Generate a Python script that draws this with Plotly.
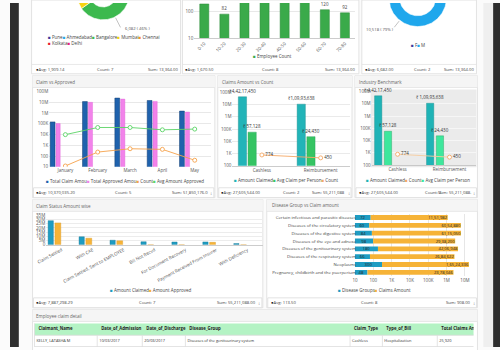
import math
import plotly.graph_objects as go

W, H = 500, 350
FONT = "Open Sans"
FS = 4.5

# ---------------- data ----------------
cities = ["Pune", "Ahmedabad", "Bangalore", "Mumbai", "Chennai", "Kolkata", "Delhi"]
city_counts = [1400, 1236, 6082, 1800, 1200, 900, 746]
city_colors = ["#3c3c9c", "#27a6e3", "#3cb94e", "#f6d311", "#f7941e", "#e8192c", "#e91e7a"]

age_groups = ["0-10", "10-20", "20-30", "30-40", "40-50", "50-60", "60-70", "70-80"]
age_counts = [198, 82, 2650, 4820, 3760, 1642, 120, 92]

genders = ["F", "M"]
gender_counts = [2846, 10518]
gender_colors = ["#3c3c9c", "#1fa7ec"]

months = ["January", "February", "March", "April", "May"]
total_claim = [148500, 11420000, 24300000, 14480000, 1501676]
total_approved = [105000, 9800000, 19500000, 11900000, 1210000]
claim_count = [12, 235, 480, 420, 41]
avg_approved = [9800, 45000, 45000, 27500, 32000]

claim_types = ["Cashless", "Reimbursement"]
amount_claimed = [44217450, 10993638]
avg_claim_person = [57128, 24430]
type_count = [774, 450]

statuses = ["Claim Settled", "With CAE", "Claim Settled, Sent to EMPLOYEE", "Bill Not Recvd",
            "For Document Recovery", "Payment Received From Insurer", "With Deficiency"]
status_claimed = [28600000, 9500000, 5400000, 3600000, 3300000, 3400000, 1411088]
status_approved = [26000000, 7800000, 4700000, 0, 0, 2900000, 0]

diseases = ["Certain infectious and parasitic diseases", "Diseases of the circulatory system",
            "Diseases of the digestive system", "Diseases of the eye and adnexa",
            "Diseases of the genitourinary system", "Diseases of the respiratory system",
            "Neoplasms", "Pregnancy, childbirth and the puerperium"]
disease_counts = [72, 60, 84, 98, 180, 66, 300, 48]
disease_amounts = [1151982, 6054880, 6115050, 2938200, 4206948, 2684622, 16524336, 2378046]

table_cols = ["Claimant_Name", "Date_of_Admission", "Date_of_Discharge", "Disease_Group",
              "Claim_Type", "Type_of_Bill", "Total Claims Amount"]
table_row = ["KELLY, LATASHA M", "10/03/2017", "20/03/2017", "Diseases of the genitourinary system",
             "Cashless", "Hospitalization", "25,920"]

log_vals = [10, 100, 1e3, 1e4, 1e5, 1e6, 1e7, 1e8]
log_text = ["10", "100", "1K", "10K", "100K", "1M", "10M", "100M"]
lin_vals = [0, 5e6, 10e6, 15e6, 20e6, 25e6, 30e6, 35e6]
lin_text = ["0", "5M", "10M", "15M", "20M", "25M", "30M", "35M"]

# table column borders (layout, px)
col_edges = [25, 89, 135, 179, 347, 380, 436, 473]


def inr(n):
    s = str(int(n))
    last3, rest = s[-3:], s[:-3]
    groups = []
    while len(rest) > 2:
        groups.insert(0, rest[-2:])
        rest = rest[:-2]
    if rest:
        groups.insert(0, rest)
    return ",".join(groups + [last3])


def X(px):
    return px / W


def Y(py):
    return 1 - py / H


shapes, annots = [], []


def rect(x0, y0, x1, y1, fill, line=None, lw=0.8):
    shapes.append(dict(type="rect", xref="paper", yref="paper", x0=X(x0), x1=X(x1), y0=Y(y1), y1=Y(y0),
                       fillcolor=fill, line=dict(color=line or "rgba(0,0,0,0)", width=lw if line else 0),
                       layer="below"))


def hline(x0, x1, y, color="#e2e2e2", lw=0.8):
    shapes.append(dict(type="line", xref="paper", yref="paper", x0=X(x0), x1=X(x1), y0=Y(y), y1=Y(y),
                       line=dict(color=color, width=lw), layer="below"))


def vline(x, y0, y1, color="#dddddd", lw=0.8):
    shapes.append(dict(type="line", xref="paper", yref="paper", x0=X(x), x1=X(x), y0=Y(y0), y1=Y(y1),
                       line=dict(color=color, width=lw), layer="below"))


def text(x, y, s, size=FS, color="#555", anchor="left"):
    annots.append(dict(xref="paper", yref="paper", x=X(x), y=Y(y), text=s, showarrow=False,
                       xanchor=anchor, yanchor="middle", borderpad=0,
                       font=dict(family=FONT, size=size, color=color)))


def legend(x, y, items, anchor="left"):
    s = "".join(f'<span style="color:{c}">■</span> {n}' for n, c in items)
    text(x, y, s, color="#444", anchor=anchor)


def footer(x0, x1, y, avg, cnt, sm, cx, spinner=False):
    text(x0, y, '<span style="color:#111">●</span>Avg: ' + avg, size=4.2, color="#444")
    text(cx, y, "Count: " + cnt, size=4.2, color="#444", anchor="center")
    text(x1 - (4 if spinner else 0), y, "Sum: " + sm, size=4.2, color="#444", anchor="right")
    if spinner:
        text(x1 + 0.5, y, "↕", size=4.5, color="#777", anchor="right")


# ---------------- page chrome ----------------
rect(0, 0, 500, 350, "#fbfbfb")
rect(0, 0, 9, 350, "#2e2e2e")
rect(483, 0, 493, 350, "#efefef")
rect(493, 0, 500, 350, "#2e2e2e")

for (a, b) in [(22, 174), (176, 356), (359, 476)]:
    rect(a, -3, b, 72, "white", "#dcdcdc")
    hline(a, b, 62.5)
for (a, b) in [(23, 209), (212, 349), (352, 477)]:
    rect(a, 74, b, 198, "white", "#dcdcdc")
    rect(a, 74, b, 86, "#f5f5f5")
    hline(a, b, 86)
    rect(a + 1, 188, b - 1, 198, "white", "#dcdcdc")
rect(368, 88, 476, 167, "#ebebeb")
for (a, b) in [(23, 258), (262, 477)]:
    rect(a, 200, b, 310, "white", "#dcdcdc")
    rect(a, 200, b, 212, "#f5f5f5")
    hline(a, b, 212)
    rect(a + 1, 300, b - 1, 310, "white", "#dcdcdc")
rect(23, 312, 477, 356, "white", "#dcdcdc")
rect(23, 312, 477, 324, "#f5f5f5")
hline(23, 477, 324)

# table grid
rect(col_edges[0], 326, col_edges[-1], 338, "#b4f3c4")
hline(col_edges[0], col_edges[-1], 338, "#d8d8d8")
hline(col_edges[0], col_edges[-1], 349.5, "#dddddd")
for e in col_edges[1:-1]:
    vline(e, 338, 350, "#dddddd")
vline(col_edges[0], 326, 350, "#dddddd")

# titles
text(26, 80, "Claim vs Approved", color="#666")
text(215, 80.5, "Claims Amount vs Count", color="#666")
text(355, 80.5, "Industry Benchmark", color="#666")
text(26, 206.5, "Claim Status Amount wise", color="#666")
text(266, 206, "Disease Group vs Claim amount", color="#666")
text(26, 318.5, "Employee claim detail", color="#666")

# footers
footer(25, 172, 67.5, "1,909.14", "7", "13,364.00", 97)
footer(178, 353, 67.5, "1,670.50", "8", "13,364.00", 266)
footer(361, 474, 67.5, "6,682.00", "2", "13,364.00", 421)
footer(26, 207, 193, "10,370,035.20", "5", "51,850,176.0", 116, True)
footer(214, 347, 193, "27,605,544.00", "2", "55,211,088", 287, True)
footer(355, 475, 193, "27,605,544.00", "2", "55,211,088.", 432, True)
footer(26, 256, 305, "7,887,298.29", "7", "55,211,088.00", 140, True)
footer(265, 475, 305, "113.50", "8", "908.00", 367, True)

fig = go.Figure()


# ---------------- donuts ----------------
def ring(values, colors, cx, cy, R, r, xa, ya):
    total = sum(values)
    a = 0.0
    mids = []
    for v, c in zip(values, colors):
        a1 = a + v / total * 360
        k = max(4, int(300 * (a1 - a) / 360) + 2)
        angs = [math.radians(a + (a1 - a) * i / (k - 1)) for i in range(k)]
        xs = [cx + R * math.sin(t) for t in angs] + [cx + r * math.sin(t) for t in reversed(angs)]
        ys = [cy - R * math.cos(t) for t in angs] + [cy - r * math.cos(t) for t in reversed(angs)]
        fig.add_trace(go.Scatter(x=xs + [xs[0]], y=ys + [ys[0]], fill="toself", mode="lines",
                                 fillcolor=c, line=dict(color="white", width=0.6),
                                 xaxis=xa, yaxis=ya, hoverinfo="skip", showlegend=False))
        mids.append((a + a1) / 2)
        a = a1
    return mids


c1 = dict(cx=95, cy=-9.9, R=27, r=14)
mids1 = ring(city_counts, city_colors, c1["cx"], c1["cy"], c1["R"], c1["r"], "x", "y")
bi = cities.index("Bangalore")
t = math.radians(mids1[bi])
p0 = (c1["cx"] + (c1["R"] + 1) * math.sin(t), c1["cy"] - (c1["R"] + 1) * math.cos(t))
p1 = (c1["cx"] + (c1["R"] + 12) * math.sin(t), c1["cy"] - (c1["R"] + 12) * math.cos(t))
fig.add_trace(go.Scatter(x=[p0[0], p1[0]], y=[p0[1], p1[1]], mode="lines",
                         line=dict(color="#999", width=0.6), xaxis="x", yaxis="y",
                         hoverinfo="skip", showlegend=False))
pct = round(city_counts[bi] / sum(city_counts) * 100)
text(p1[0] + 4, p1[1] + 1, f"{city_counts[bi]:,} ( {pct}% )", size=4.2, color="#555")
legend(38, 35, list(zip(cities[:5], city_colors[:5])))
legend(38, 40.5, list(zip(cities[5:], city_colors[5:])))

c2 = dict(cx=416, cy=-5.5, R=29.5, r=18.5)
mids2 = ring(gender_counts, gender_colors, c2["cx"], c2["cy"], c2["R"], c2["r"], "x3", "y3")
mi = genders.index("M")
t = math.radians(mids2[mi])
q0 = (c2["cx"] + (c2["R"] + 1) * math.sin(t), c2["cy"] - (c2["R"] + 1) * math.cos(t))
q1 = (c2["cx"] + (c2["R"] + 9) * math.sin(t), c2["cy"] - (c2["R"] + 9) * math.cos(t))
fig.add_trace(go.Scatter(x=[q0[0], q1[0]], y=[q0[1], q1[1]], mode="lines",
                         line=dict(color="#999", width=0.6), xaxis="x3", yaxis="y3",
                         hoverinfo="skip", showlegend=False))
pct2 = round(gender_counts[mi] / sum(gender_counts) * 100)
text(q1[0] + 1, q1[1] + 2.5, f"{gender_counts[mi]:,} ( {pct2}% )", size=4.2, color="#555", anchor="right")
legend(416, 43, list(zip(genders, gender_colors)), anchor="center")

# ---------------- age bars ----------------
fig.add_trace(go.Bar(x=age_groups, y=age_counts, xaxis="x2", yaxis="y2", width=0.45,
                     marker=dict(color="#3aaa4a", line=dict(color="#2c8a3a", width=0.5)),
                     text=[str(v) for v in age_counts], textposition="outside", constraintext="none",
                     textfont=dict(size=FS, color="#444", family=FONT), cliponaxis=False,
                     showlegend=False))
legend(268, 54, [("Employee Count", "#3aaa4a")], anchor="center")

# ---------------- claim vs approved ----------------
fig.add_trace(go.Bar(x=months, y=total_claim, xaxis="x4", yaxis="y4", offset=-0.47, width=0.15,
                     marker=dict(color="#1f62ad", line=dict(color="#143f73", width=0.5)), showlegend=False))
fig.add_trace(go.Bar(x=months, y=total_approved, xaxis="x4", yaxis="y4", offset=-0.29, width=0.13,
                     marker=dict(color="#f282ea", line=dict(color="#e060d8", width=0.4)), showlegend=False))
fig.add_trace(go.Scatter(x=months, y=claim_count, xaxis="x4", yaxis="y4", mode="lines+markers",
                         line=dict(color="#f5a24b", width=0.9),
                         marker=dict(size=4, color="white", line=dict(color="#f5a24b", width=0.9)),
                         showlegend=False))
fig.add_trace(go.Scatter(x=months, y=avg_approved, xaxis="x4", yaxis="y4", mode="lines+markers",
                         line=dict(color="#5bd466", width=0.9),
                         marker=dict(size=4, color="white", line=dict(color="#5bd466", width=0.9)),
                         showlegend=False))
legend(36, 181, [("Total Claim Amou", "#1f62ad"), ("Total Approved Amou", "#f282ea"),
                 ("Count", "#f5a24b"), ("Avg Amount Approved", "#5bd466")])


def amount_panel(xa, ya, teal, green, line_c, marker_c, off_t, off_g):
    fig.add_trace(go.Bar(x=claim_types, y=amount_claimed, xaxis=xa, yaxis=ya, offset=off_t, width=0.14,
                         marker=dict(color=teal, line=dict(color="#168a8c", width=0.4)),
                         text=["₹" + inr(v) for v in amount_claimed], textposition="outside",
                         constraintext="none", cliponaxis=False,
                         textfont=dict(size=FS, color="#333", family=FONT), showlegend=False))
    fig.add_trace(go.Bar(x=claim_types, y=avg_claim_person, xaxis=xa, yaxis=ya, offset=off_g, width=0.14,
                         marker=dict(color=green, line=dict(color="#24a05a", width=0.4)),
                         text=["₹" + inr(v) for v in avg_claim_person], textposition="outside",
                         constraintext="none", cliponaxis=False,
                         textfont=dict(size=FS, color="#333", family=FONT), showlegend=False))
    fig.add_trace(go.Scatter(x=claim_types, y=type_count, xaxis=xa, yaxis=ya, mode="lines+markers+text",
                             line=dict(color=line_c, width=0.9),
                             marker=dict(size=4, color="white", line=dict(color=marker_c, width=0.9)),
                             text=[str(v) for v in type_count], textposition="middle right",
                             textfont=dict(size=FS, color="#333", family=FONT), cliponaxis=False,
                             showlegend=False))


amount_panel("x5", "y5", "#22b4b8", "#35c463", "#f5a865", "#f5a865", -0.40, -0.235)
amount_panel("x6", "y6", "#1fb3b6", "#3ee79d", "#f7cc9e", "#f5a865", -0.443, -0.255)
legend(228, 180.5, [("Amount Claimed", "#22b4b8"), ("Avg Claim per Person", "#35c463"), ("Count", "#f5a865")])
legend(362, 180.5, [("Amount Claimed", "#1fb3b6"), ("Count", "#f5a865"), ("Avg Claim per Person", "#3ee79d")])

# ---------------- claim status ----------------
fig.add_trace(go.Bar(x=statuses, y=status_claimed, xaxis="x7", yaxis="y7", offset=-0.44, width=0.17,
                     marker=dict(color="#1e9cc2", line=dict(color="#157391", width=0.4)), showlegend=False))
fig.add_trace(go.Bar(x=statuses, y=status_approved, xaxis="x7", yaxis="y7", offset=-0.22, width=0.19,
                     marker=dict(color="#f6b337", line=dict(color="#d99a25", width=0.4)), showlegend=False))
legend(144, 292, [("Amount Claimed", "#1e9cc2"), ("Amount Approved", "#f6b337")], anchor="center")

# ---------------- disease group ----------------
fig.add_trace(go.Bar(y=diseases, x=disease_counts, orientation="h", xaxis="x8", yaxis="y8", width=0.62,
                     marker=dict(color="#1e9cc2", line=dict(width=0)),
                     text=[str(v) for v in disease_counts], textposition="inside", insidetextanchor="middle",
                     insidetextfont=dict(size=4.2, color="#222", family=FONT), showlegend=False))
fig.add_trace(go.Bar(y=diseases, x=disease_amounts, base=disease_counts, orientation="h", xaxis="x8",
                     yaxis="y8", width=0.62, marker=dict(color="#f6b337", line=dict(width=0)),
                     text=[inr(v) for v in disease_amounts], textposition="inside", insidetextanchor="end",
                     insidetextfont=dict(size=4.2, color="#222", family=FONT), showlegend=False))
legend(372, 291.7, [("Disease Groups", "#1e9cc2"), ("Claims Amount", "#f6b337")], anchor="center")

# ---------------- table (text clipped by a hidden subplot) ----------------
fig.add_trace(go.Scatter(x=[e + 4 for e in col_edges[:-1]], y=[332] * len(table_cols), mode="text",
                         text=["<b>" + c + "</b>" for c in table_cols], textposition="middle right",
                         textfont=dict(size=4.3, color="#222", family=FONT), xaxis="x9", yaxis="y9",
                         hoverinfo="skip", showlegend=False))
fig.add_trace(go.Scatter(x=[e + 2 for e in col_edges[:-1]], y=[344] * len(table_row), mode="text",
                         text=table_row, textposition="middle right",
                         textfont=dict(size=3.9, color="#333", family=FONT), xaxis="x9", yaxis="y9",
                         hoverinfo="skip", showlegend=False))

# ---------------- layout ----------------
tf = dict(size=FS, color="#555", family=FONT)


def base_ax(**kw):
    d = dict(showgrid=False, zeroline=False, showline=False, ticks="", tickfont=tf, fixedrange=True)
    d.update(kw)
    return d


layout = dict(
    width=W, height=H, margin=dict(l=0, r=0, t=0, b=0), paper_bgcolor="#fbfbfb",
    plot_bgcolor="rgba(0,0,0,0)", barmode="overlay", showlegend=False,
    uniformtext=dict(minsize=4.2, mode="show"),
    font=dict(family=FONT, size=FS, color="#555"),
    shapes=shapes, annotations=annots,
    xaxis=dict(domain=[X(22), X(174)], range=[22, 174], visible=False, fixedrange=True, anchor="y"),
    yaxis=dict(domain=[Y(30), Y(0)], range=[30, 0], visible=False, fixedrange=True, anchor="x"),
    xaxis3=dict(domain=[X(359), X(476)], range=[359, 476], visible=False, fixedrange=True, anchor="y3"),
    yaxis3=dict(domain=[Y(40), Y(0)], range=[40, 0], visible=False, fixedrange=True, anchor="x3"),
    xaxis9=dict(domain=[X(col_edges[0]), X(col_edges[-1])], range=[col_edges[0], col_edges[-1]],
                visible=False, fixedrange=True, anchor="y9"),
    yaxis9=dict(domain=[0, Y(326)], range=[350, 326], visible=False, fixedrange=True, anchor="x9"),
    xaxis2=base_ax(domain=[X(188), X(352)], anchor="y2", type="category", tickangle=-45,
                   range=[-0.5, len(age_groups) - 0.5],
                   showline=True, linecolor="#cccccc", linewidth=0.8),
    yaxis2=base_ax(domain=[Y(36), Y(0)], anchor="x2", type="log", range=[1, 2 + 9 / 27],
                   tickvals=[10, 100], ticktext=["10", "100"], showgrid=True, gridcolor="#e8e8e8"),
    xaxis4=base_ax(domain=[X(40), X(205)], anchor="y4", type="category", range=[-0.5, len(months) - 0.5]),
    yaxis4=base_ax(domain=[Y(166.7), Y(90)], anchor="x4", type="log", range=[1, 8],
                   tickvals=log_vals, ticktext=log_text, showgrid=True, gridcolor="#e8e8e8"),
    xaxis5=base_ax(domain=[X(227), X(347)], anchor="y5", type="category", range=[-0.5, 1.5],
                   showline=True, linecolor="#cccccc", linewidth=0.8),
    yaxis5=base_ax(domain=[Y(165.7), Y(91)], anchor="x5", type="log", range=[2, 8],
                   tickvals=log_vals[1:], ticktext=log_text[1:], showgrid=True, gridcolor="#eaeaea"),
    xaxis6=base_ax(domain=[X(369), X(475)], anchor="y6", type="category", range=[-0.5, 1.5],
                   showline=True, linecolor="#c8c8c8", linewidth=0.8),
    yaxis6=base_ax(domain=[Y(165), Y(90)], anchor="x6", type="log", range=[2, 8],
                   tickvals=log_vals[1:], ticktext=log_text[1:], showgrid=True, gridcolor="#f6f6f6"),
    xaxis7=base_ax(domain=[X(37), X(258)], anchor="y7", type="category", tickangle=-28,
                   range=[-0.5, len(statuses) - 0.5],
                   showline=True, linecolor="#cccccc", linewidth=0.8),
    yaxis7=base_ax(domain=[Y(246), Y(216)], anchor="x7", range=[0, 35e6],
                   tickvals=lin_vals, ticktext=lin_text, showgrid=True, gridcolor="#ececec"),
    xaxis8=base_ax(domain=[X(352), X(472)], anchor="y8", type="log", range=[1, 1 + 120 / 18.7],
                   tickvals=log_vals[:7], ticktext=log_text[:7], showgrid=True, gridcolor="#e6e6e6"),
    yaxis8=base_ax(domain=[Y(278), Y(214.3)], anchor="x8", type="category", autorange="reversed",
                   tickfont=dict(size=4.3, color="#444", family=FONT), ticklabelstandoff=-2),
)
fig.update_layout(**layout)
fig.write_html("out.html")
